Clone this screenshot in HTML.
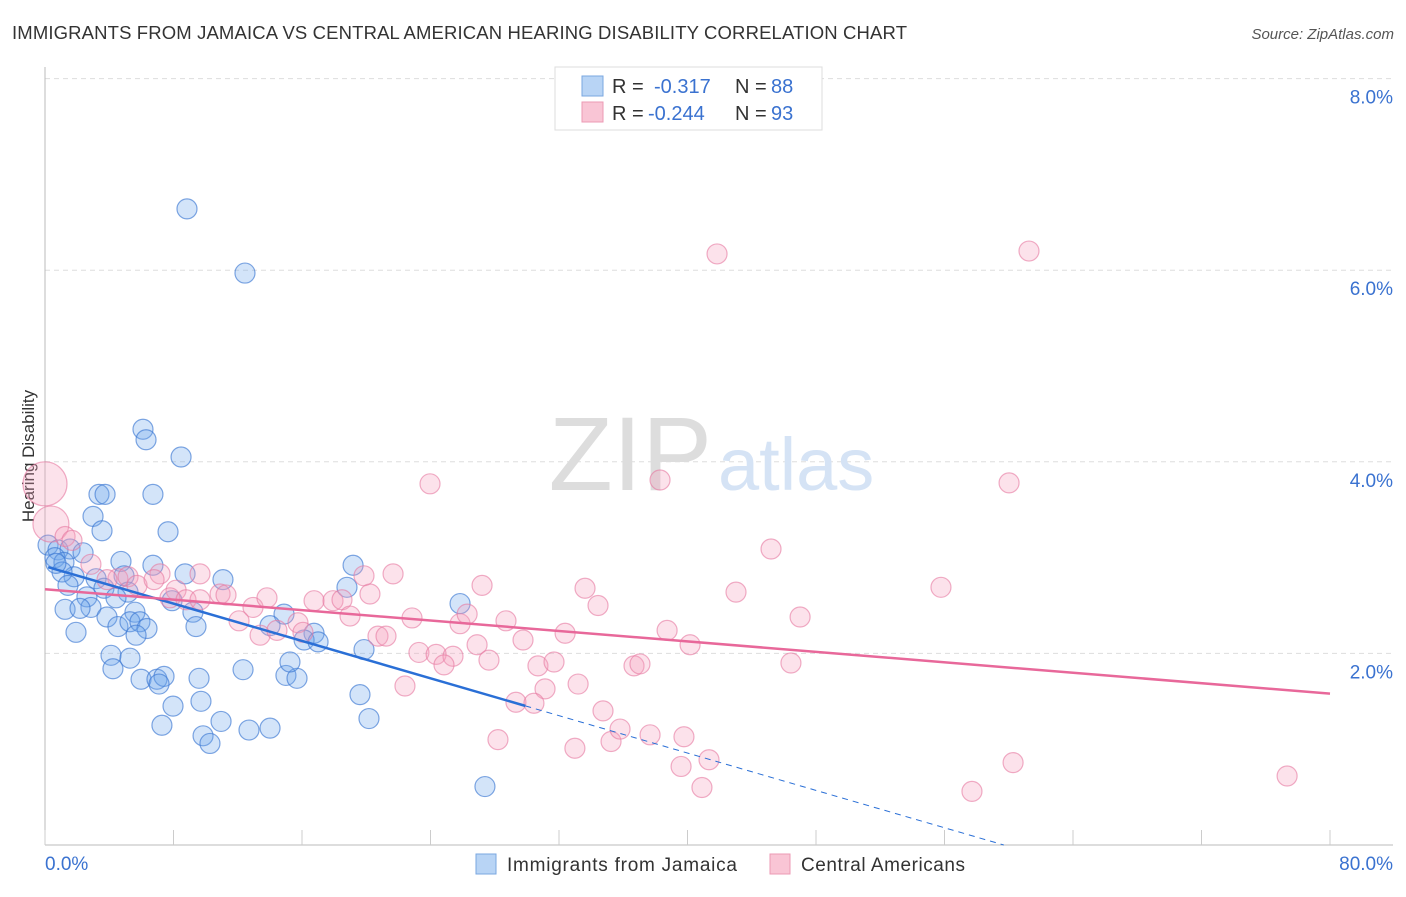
<!DOCTYPE html>
<html><head><meta charset="utf-8"><style>
body{margin:0;background:#fff;font-family:"Liberation Sans",sans-serif;}
svg text{font-family:"Liberation Sans",sans-serif;}
</style></head><body>
<svg id="chart" width="1406" height="892" viewBox="0 0 1406 892">
<text x="12" y="39" font-size="18.5" fill="#333" textLength="895">IMMIGRANTS FROM JAMAICA VS CENTRAL AMERICAN HEARING DISABILITY CORRELATION CHART</text>
<text x="1394" y="39" font-size="15" fill="#555" font-style="italic" text-anchor="end">Source: ZipAtlas.com</text>
<text transform="translate(34,456) rotate(-90)" font-size="17" fill="#333" text-anchor="middle">Hearing Disability</text>
<g id="grid"></g>
<text x="712" y="490" font-size="105" fill="#ddd" text-anchor="end" font-family="Liberation Serif">ZIP</text>
<text x="718" y="490" font-size="74" fill="#d5e3f5">atlas</text>
<g id="pts"></g>
<g id="lines"></g>
<g>
<rect x="555" y="67" width="267" height="63" fill="#fff" stroke="#ddd"/>
<rect x="582" y="76" width="21" height="20" fill="#b8d4f5" stroke="#7aa7e0"/>
<rect x="582" y="102" width="21" height="20" fill="#f9c5d5" stroke="#ec9ab4"/>
<text x="612" y="93" font-size="20" fill="#333">R = </text><text x="654" y="93" font-size="20" fill="#3a72d0">-0.317</text>
<text x="735" y="93" font-size="20" fill="#333">N = </text><text x="771" y="93" font-size="20" fill="#3a72d0">88</text>
<text x="612" y="120" font-size="20" fill="#333">R = </text><text x="648" y="120" font-size="20" fill="#3a72d0">-0.244</text>
<text x="735" y="120" font-size="20" fill="#333">N = </text><text x="771" y="120" font-size="20" fill="#3a72d0">93</text>
</g>
<g>
<rect x="476" y="854" width="20" height="20" fill="#b8d4f5" stroke="#7aa7e0"/>
<text x="507" y="871" font-size="19" fill="#333" textLength="230">Immigrants from Jamaica</text>
<rect x="770" y="854" width="20" height="20" fill="#f9c5d5" stroke="#ec9ab4"/>
<text x="801" y="871" font-size="19" fill="#333" textLength="164">Central Americans</text>
</g>
</svg>
<script>
const yTicks=[2,4,6,8];
const yTickLabels=["2.0%","4.0%","6.0%","8.0%"];
const xTicks=[0,8,16,24,32,40,48,56,64,72,80];
const blueX=[8.84,12.45,6.10,6.29,8.47,3.36,3.74,6.72,2.99,3.55,7.66,0.19,0.81,1.56,2.37,0.62,1.18,4.73,6.72,19.18,8.72,11.08,3.18,4.92,1.81,1.06,1.43,18.80,3.67,5.17,4.42,2.61,7.91,25.84,1.25,2.86,2.18,5.60,3.86,9.21,14.88,14.01,4.54,5.29,5.91,6.35,9.40,5.67,16.75,16.13,17.00,19.86,1.93,4.11,5.29,4.23,12.33,5.98,6.97,7.41,9.59,15.00,15.69,7.10,19.61,7.97,9.71,10.96,20.17,7.28,9.84,10.27,12.70,14.01,27.39,15.25,0.68];
const blueY=[6.64,5.97,4.34,4.23,4.05,3.66,3.66,3.66,3.43,3.28,3.27,3.13,3.08,3.09,3.05,3.00,2.95,2.96,2.92,2.92,2.83,2.77,2.78,2.81,2.80,2.85,2.71,2.69,2.68,2.64,2.58,2.59,2.55,2.52,2.46,2.48,2.47,2.43,2.38,2.43,2.41,2.29,2.28,2.33,2.33,2.26,2.28,2.19,2.21,2.14,2.12,2.04,2.22,1.98,1.95,1.84,1.83,1.73,1.73,1.76,1.74,1.77,1.74,1.68,1.57,1.45,1.50,1.29,1.32,1.25,1.14,1.06,1.20,1.22,0.61,1.91,2.94];
const pinkX=[0,0.37,1.25,1.68,2.86,4.54,5.17,3.86,7.16,9.65,5.73,6.79,8.16,7.78,10.90,8.78,9.65,11.27,12.95,13.82,12.08,13.39,14.44,15.75,16.06,16.75,17.93,18.49,19.86,21.67,18.99,20.23,20.73,21.23,22.85,23.97,23.28,24.35,25.40,24.84,22.41,25.84,26.28,27.21,26.90,27.64,28.70,29.76,30.69,31.69,31.13,29.32,30.44,28.20,32.38,33.19,33.62,34.43,34.74,32.99,35.24,35.80,36.67,37.04,37.67,38.29,38.73,39.78,40.16,39.60,40.90,41.34,41.84,43.02,45.20,46.44,47.01,55.78,57.71,60.02,60.27,61.26,77.33];
const pinkY=[3.77,3.35,3.22,3.18,2.93,2.78,2.80,2.77,2.83,2.83,2.71,2.77,2.66,2.58,2.62,2.56,2.56,2.61,2.48,2.58,2.34,2.19,2.24,2.32,2.22,2.55,2.55,2.56,2.81,2.83,2.39,2.62,2.18,2.18,2.37,3.77,2.01,1.99,1.97,1.88,1.66,2.31,2.41,2.71,2.09,1.93,2.34,2.14,1.87,1.91,1.63,1.49,1.48,1.10,2.21,1.68,2.68,2.50,1.40,1.01,1.08,1.21,1.87,1.89,1.15,3.81,2.24,1.13,2.09,0.82,0.60,0.89,6.17,2.64,3.09,1.90,2.38,2.69,0.56,3.78,0.86,6.20,0.72];
const pinkR=[22,18];
const blueTrend=[2.91,-0.99];
const pinkTrend=[2.67,1.58];
const NS="http://www.w3.org/2000/svg";
const X=v=>45+v/80*1285;
const Y=v=>845-v*95.8;
function mk(t,a,p){const e=document.createElementNS(NS,t);for(const k in a)e.setAttribute(k,a[k]);p.appendChild(e);return e;}
const grid=document.getElementById('grid');
yTicks.forEach((t,i)=>{
 const l=mk('line',{x1:45,x2:1393,y1:Y(t),y2:Y(t),stroke:'#ddd','stroke-dasharray':'5,4'},grid);
 
 
 const tx=mk('text',{x:1393,y:Y(t)+25,'font-size':19,fill:'#3a72d0','text-anchor':'end'},grid);
 tx.textContent=yTickLabels[i];
 
 
});
const ax=mk('line',{x1:45,x2:45,y1:67,y2:845,stroke:'#bbb'},grid);


const bx=mk('line',{x1:45,x2:1393,y1:845,y2:845,stroke:'#bbb'},grid);


xTicks.forEach(t=>{
 const l=mk('line',{x1:X(t),x2:X(t),y1:830,y2:845,stroke:'#ccc'},grid);
 
 
});
const x0=mk('text',{x:45,y:870,'font-size':19,fill:'#3a72d0'},grid);x0.textContent='0.0%';


const x1=mk('text',{x:1393,y:870,'font-size':19,fill:'#3a72d0','text-anchor':'end'},grid);x1.textContent='80.0%';


const pts=document.getElementById('pts');
blueX.forEach((v,i)=>{
 const c=mk('circle',{cx:X(v),cy:Y(blueY[i]),r:10,fill:'rgba(110,165,235,0.3)',stroke:'rgba(60,120,210,0.65)','stroke-width':1.2},pts);
 
 
});
pinkX.forEach((v,i)=>{
 const c=mk('circle',{cx:X(v),cy:Y(pinkY[i]),r:pinkR[i]||10,fill:'rgba(245,160,190,0.3)',stroke:'rgba(230,120,160,0.6)','stroke-width':1.2},pts);
 
 
});
const lines=document.getElementById('lines');
const bt=v=>blueTrend[0]+(blueTrend[1]-blueTrend[0])*v/80;
const xZero=80*blueTrend[0]/(blueTrend[0]-blueTrend[1]);
const b1=mk('line',{x1:X(0.2),y1:Y(bt(0.2)),x2:X(29.9),y2:Y(bt(29.9)),stroke:'#2a6fd6','stroke-width':2.5},lines);


const b2=mk('line',{x1:X(29.9),y1:Y(bt(29.9)),x2:X(xZero),y2:Y(0),stroke:'#2a6fd6','stroke-width':1,'stroke-dasharray':'6,5'},lines);


const p1=mk('line',{x1:X(0),y1:Y(pinkTrend[0]),x2:X(80),y2:Y(pinkTrend[1]),stroke:'#e8689a','stroke-width':2.5},lines);


</script>
</body></html>
